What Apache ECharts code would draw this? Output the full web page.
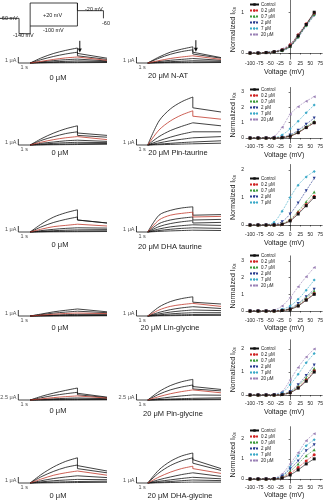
<!DOCTYPE html>
<html><head><meta charset="utf-8">
<script src="https://cdn.jsdelivr.net/npm/echarts@6/dist/echarts.min.js"></script>
<style>html,body{margin:0;padding:0;background:#fff}#c{width:326px;height:500px}</style>
</head><body><div id="c"></div>
<script>
// ---------- DATA ----------
// sample times (s) of the activation phase, and of the tail phase
const stepTimes = [0, 1, 2, 3, 4];
const tailTimes = [4, 6.5];
// each trace: [I(0s), I(1s), I(2s), I(3s), I(4s), tail start, tail end]  (μA)
const natCtrl = [
  [0,0.9,1.6,2.1,2.5,1.6,0.8],[0,0.6,1.1,1.5,1.8,1.2,0.6],[0,0.3,0.6,0.85,1.0,0.8,0.45],
  [0,0.2,0.4,0.55,0.65,0.55,0.35],[0,0.1,0.2,0.28,0.35,0.35,0.25],[0,0.05,0.1,0.13,0.15,0.2,0.15],[0,0.02,0.03,0.04,0.05,0.1,0.08]];
const nat20 = [
  [0,1.0,1.8,2.3,2.7,1.8,0.9],[0,0.8,1.45,1.9,2.2,1.5,0.8],[0,0.4,0.75,1.0,1.2,1.0,0.6],
  [0,0.25,0.45,0.6,0.75,0.7,0.45],[0,0.12,0.22,0.3,0.38,0.4,0.3],[0,0.05,0.1,0.13,0.16,0.22,0.17],[0,0.02,0.03,0.04,0.05,0.1,0.08]];
const pinTauCtrl = [
  [0,1.1,2.0,2.7,3.2,2.0,1.6],[0,0.8,1.4,1.9,2.2,1.6,1.3],[0,0.5,0.9,1.2,1.4,1.2,0.9],
  [0,0.3,0.5,0.7,0.8,0.8,0.6],[0,0.15,0.28,0.38,0.45,0.5,0.4],[0,0.06,0.12,0.16,0.2,0.3,0.25],[0,0.02,0.04,0.06,0.08,0.15,0.12]];
const pinTau20 = [
  [0,4.0,6.0,7.2,8.0,6.2,5.5],[0,2.5,4.0,5.0,5.7,4.8,4.3],[0,1.4,2.4,3.1,3.7,3.6,3.2],
  [0,0.7,1.3,1.8,2.2,2.4,2.2],[0,0.35,0.7,0.95,1.2,1.5,1.4],[0,0.15,0.28,0.4,0.5,0.8,0.7],[0,0.05,0.1,0.15,0.2,0.35,0.3]];
const dhaTauCtrl = [
  [0,1.4,2.5,3.2,3.7,2.0,1.5],[0,0.9,1.6,2.1,2.5,2.0,1.5],[0,0.5,0.9,1.1,1.3,1.3,1.0],
  [0,0.25,0.45,0.6,0.7,0.8,0.65],[0,0.12,0.22,0.3,0.35,0.45,0.4],[0,0.05,0.1,0.13,0.15,0.25,0.2],[0,0.02,0.03,0.04,0.05,0.1,0.08]];
const dhaTau20 = [
  [0,2.8,3.6,4.0,4.2,2.8,2.9],[0,2.0,2.8,3.1,3.3,2.5,2.6],[0,1.4,2.0,2.3,2.5,2.0,2.1],
  [0,0.9,1.4,1.7,1.9,1.5,1.6],[0,0.5,0.85,1.05,1.2,1.0,1.1],[0,0.25,0.45,0.6,0.7,0.55,0.6],[0,0.1,0.18,0.24,0.3,0.25,0.25]];
const linGlyCtrl = [
  [0,0.35,0.7,0.95,1.17,0.9,0.7],[0,0.25,0.48,0.65,0.8,0.7,0.55],[0,0.15,0.3,0.42,0.5,0.5,0.4],
  [0,0.08,0.15,0.22,0.28,0.35,0.3],[0,0.04,0.08,0.11,0.14,0.2,0.18],[0,0.02,0.04,0.05,0.06,0.1,0.09],[0,0.01,0.01,0.02,0.02,0.05,0.04]];
const linGly20 = [
  [0,1.5,2.4,2.9,3.2,2.3,2.0],[0,1.0,1.6,1.9,2.1,1.8,1.6],[0,0.6,1.05,1.35,1.55,1.4,1.25],
  [0,0.35,0.65,0.85,1.0,1.0,0.9],[0,0.18,0.35,0.47,0.55,0.6,0.55],[0,0.08,0.15,0.2,0.25,0.3,0.28],[0,0.03,0.05,0.07,0.09,0.12,0.1]];
const pinGlyCtrl = [
  [0,1.6,2.9,4.0,5.0,2.8,1.2],[0,1.0,1.9,2.6,3.2,2.2,1.0],[0,0.5,1.0,1.4,1.7,1.5,0.8],
  [0,0.25,0.5,0.7,0.85,0.9,0.55],[0,0.1,0.2,0.3,0.38,0.5,0.35],[0,0.04,0.08,0.12,0.15,0.25,0.18],[0,0.01,0.02,0.03,0.04,0.1,0.08]];
const pinGly20 = [
  [0,3.5,6.0,7.6,8.6,5.6,4.4],[0,2.4,4.2,5.4,6.25,4.6,3.8],[0,1.4,2.6,3.5,4.2,3.5,3.0],
  [0,0.6,1.2,1.7,2.1,2.2,2.0],[0,0.2,0.4,0.55,0.7,1.0,0.9],[0,0.08,0.15,0.2,0.25,0.45,0.4],[0,0.02,0.04,0.06,0.08,0.15,0.14]];
const dhaGlyCtrl = [
  [0,1.5,2.7,3.6,4.2,2.9,2.0],[0,1.1,1.95,2.6,3.0,2.4,1.7],[0,0.7,1.3,1.7,2.0,1.8,1.3],
  [0,0.4,0.75,1.0,1.2,1.2,0.9],[0,0.2,0.38,0.5,0.6,0.7,0.55],[0,0.08,0.15,0.2,0.25,0.35,0.3],[0,0.02,0.04,0.06,0.08,0.15,0.12]];
const dhaGly20 = [
  [0,2.2,3.6,4.5,5.0,3.9,2.4],[0,1.7,2.9,3.7,4.2,3.3,2.1],[0,1.0,1.8,2.4,2.8,2.4,1.6],
  [0,0.55,1.0,1.4,1.7,1.6,1.1],[0,0.28,0.52,0.75,0.95,1.0,0.7],[0,0.12,0.25,0.38,0.5,0.55,0.4],[0,0.04,0.08,0.12,0.15,0.2,0.15]];
// which trace (from the top) is drawn in red, per row: [control, drug]
const redTrace = [[2,2],[2,1],[2,1],[2,1],[2,2],[2,2]];

// voltage protocol (time s, mV)
const protocolMain = [[-2.55,-60],[-0.94,-60],[-0.94,-140],[0,-140],[0,20],[4,20],[4,-20],[6.2,-20],[6.2,-60]];
const protocolLow = [[0,-100],[4,-100],[4,20]];

// scale bars: current (μA) per row
const scaleBarCurrent = [1, 1, 1, 1, 2.5, 1];
const scaleBarLabel = ['1 μA','1 μA','1 μA','1 μA','2.5 μA','1 μA'];
// arrows on the N-AT traces (time s, from μA, to μA)
const arrowCtrl = [4.2, 3.7, 2.1];
const arrow20 = [4.27, 3.8, 2.2];

// I-V data
const voltages = [-100,-80,-60,-40,-20,0,20,40,60];
const concNames = ['Control','0.2 μM','0.7 μM','2 μM','7 μM','20 μM'];
const ivNAT = [
  [0,0,0.01,0.03,0.07,0.17,0.42,0.70,1.00],
  [0,0,0.01,0.03,0.08,0.20,0.45,0.72,0.98],
  [0,0,0.01,0.03,0.06,0.16,0.40,0.68,0.95],
  [0,0,0.01,0.02,0.05,0.15,0.38,0.66,0.92],
  [0,0,0.02,0.04,0.08,0.20,0.45,0.70,0.95],
  [0,0,0.02,0.04,0.10,0.22,0.44,0.70,0.97]];
const ivPinTau = [
  [0,0,0,0,0.02,0.12,0.35,0.68,1.00],
  [0,0,0,0,0.03,0.12,0.35,0.68,1.00],
  [0,0,0,0,0.03,0.15,0.40,0.75,1.10],
  [0,0,0,0,0.05,0.20,0.50,0.90,1.30],
  [0,0,0,0.02,0.20,0.60,1.10,1.65,2.15],
  [0,0,0,0.10,0.70,1.55,2.05,2.40,2.70]];
const ivDhaTau = [
  [0,0,0,0,0.03,0.15,0.40,0.70,1.00],
  [0,0,0,0,0.03,0.17,0.45,0.75,1.05],
  [0,0,0,0,0.04,0.20,0.50,0.85,1.20],
  [0,0,0,0.02,0.12,0.40,0.80,1.25,1.70],
  [0,0,0.01,0.10,0.50,1.00,1.45,1.75,1.95]];
const ivLinGly = [
  [0,0,0,0,0.03,0.10,0.30,0.65,1.00],
  [0,0,0,0,0.03,0.10,0.32,0.68,1.05],
  [0,0,0,0,0.04,0.12,0.38,0.78,1.20],
  [0,0,0,0.01,0.05,0.15,0.45,0.85,1.30],
  [0,0,0,0.02,0.10,0.30,0.70,1.25,1.85],
  [0,0,0,0.05,0.30,0.80,1.45,2.05,2.60]];
const ivPinGly = [
  [0,0,0,0,0.02,0.10,0.30,0.60,1.00],
  [0,0,0,0,0.02,0.10,0.32,0.65,1.05],
  [0,0,0,0,0.03,0.12,0.38,0.75,1.15],
  [0,0,0,0.01,0.04,0.15,0.45,0.85,1.30],
  [0,0,0,0.02,0.10,0.45,0.90,1.40,1.80],
  [0,0,0,0.03,0.15,0.65,1.20,1.65,2.00]];
const ivDhaGly = [
  [0,0,0,0.01,0.05,0.20,0.45,0.75,1.00],
  [0,0,0,0.01,0.06,0.28,0.57,0.90,1.20],
  [0,0,0,0.01,0.08,0.38,0.75,1.15,1.45],
  [0,0,0,0.02,0.13,0.50,0.90,1.40,1.70],
  [0,0,0,0.02,0.16,0.60,1.15,1.65,1.95],
  [0,0,0,0.03,0.25,0.75,1.30,1.90,2.25]];
const xTickLabels = [-100,-75,-50,-25,0,25,50,75];

const panelLabelsCtrl = ['0 μM','0 μM','0 μM','0 μM','0 μM','0 μM'];
const panelLabelsDrug = ['20 μM N-AT','20 μM Pin-taurine','20 μM DHA taurine','20 μM Lin-glycine','20 μM Pin-glycine','20 μM DHA-glycine'];

// ---------- LAYOUT / STYLE ----------
const FONT = 'Liberation Sans, Arial, sans-serif';
const TXT = '#222';
const traceRows = [
  {base:63, ymax:4, ppu:6},
  {base:145, ymax:9, ppu:6},
  {base:232, ymax:5, ppu:6},
  {base:316, ymax:4, ppu:6},
  {base:400, ymax:10, ppu:2.4},
  {base:483, ymax:6, ppu:6}
];
const colX = [{left:0, width:107}, {left:119, width:102}];
const tMin = -2.55, tMax = 6.5;
const ivRows = [
  {zero:53, ppu:41, ymin:-0.15, ymax:1.3, ticks:[0,1], leg:2},
  {zero:138, ppu:15.3, ymin:-0.3, ymax:3.3, ticks:[0,1,2,3], leg:87},
  {zero:225, ppu:27.5, ymin:-0.2, ymax:2.2, ticks:[0,1,2], leg:176},
  {zero:311, ppu:16.7, ymin:-0.3, ymax:3.3, ticks:[0,1,2,3], leg:253},
  {zero:395, ppu:23, ymin:-0.2, ymax:2.4, ticks:[0,1,2], leg:346},
  {zero:480, ppu:20.5, ymin:-0.2, ymax:2.6, ticks:[0,1,2], leg:428}
];
const ivData = [ivNAT, ivPinTau, ivDhaTau, ivLinGly, ivPinGly, ivDhaGly];
const tracePanels = [[natCtrl,nat20],[pinTauCtrl,pinTau20],[dhaTauCtrl,dhaTau20],[linGlyCtrl,linGly20],[pinGlyCtrl,pinGly20],[dhaGlyCtrl,dhaGly20]];
const concStyle = [
  {color:'#111', symbol:'rect', rot:0, dash:'solid'},
  {color:'#d02525', symbol:'circle', rot:0, dash:[2,1]},
  {color:'#3a9a3a', symbol:'triangle', rot:0, dash:[2,1]},
  {color:'#2a3d8f', symbol:'triangle', rot:180, dash:[2,1]},
  {color:'#3aa9c8', symbol:'diamond', rot:0, dash:[2,1]},
  {color:'#9a80b5', symbol:'triangle', rot:90, dash:[2,1]}
];

const grid = [], xAxis = [], yAxis = [], series = [], legend = [], graphic = [];
function addGrid(g, xa, ya){ grid.push(g); xAxis.push(Object.assign({gridIndex:grid.length-1}, xa)); yAxis.push(Object.assign({gridIndex:grid.length-1}, ya)); return grid.length-1; }

// protocol grid
{
  const ppm = 23/120; // px per mV
  const gi = addGrid({left:colX[0].left, width:colX[0].width, top:3-5*ppm, height:175*ppm},
    {type:'value', min:tMin, max:tMax, show:false}, {type:'value', min:-150, max:25, show:false});
  [protocolMain, protocolLow].forEach(d => series.push({type:'line', xAxisIndex:gi, yAxisIndex:gi, data:d, showSymbol:false, symbol:'none', lineStyle:{color:'#111', width:0.8}, silent:true, animation:false}));
  const pl = [['-60 mV',0,18.5,'left'],['-140 mV',13,35,'left'],['+20 mV',43,15,'left'],['-100 mV',43,30,'left'],['-20 mV',85,9.5,'left'],['-60',102,23,'left']];
  pl.forEach(p => graphic.push({type:'text', x:p[1], y:p[2], style:{text:p[0], fontSize:5.5, fontFamily:FONT, fill:TXT, align:p[3], verticalAlign:'middle'}}));
}

// trace grids
traceRows.forEach((r, ri) => {
  [0,1].forEach(ci => {
    const ymin = -1.5 / r.ppu;
    const gi = addGrid({left:colX[ci].left, width:colX[ci].width, top:r.base - r.ymax*r.ppu, height:(r.ymax - ymin)*r.ppu},
      {type:'value', min:tMin, max:tMax, show:false}, {type:'value', min:ymin, max:r.ymax, show:false});
    const traces = tracePanels[ri][ci];
    traces.forEach((tr, ti) => {
      const isRed = ti === redTrace[ri][ci];
      const col = isRed ? '#c0392b' : '#111';
      series.push({type:'line', xAxisIndex:gi, yAxisIndex:gi, smooth:0.3, showSymbol:false, symbol:'none',
        data: stepTimes.map((t,k)=>[t, tr[k]]), lineStyle:{color:col, width:0.8}, silent:true, animation:false, z: isRed?3:2});
      series.push({type:'line', xAxisIndex:gi, yAxisIndex:gi, showSymbol:false, symbol:'none',
        data: [[tailTimes[0], tr[4]], [tailTimes[0], tr[5]], [tailTimes[1], tr[6]]], lineStyle:{color:col, width:0.8}, silent:true, animation:false, z: isRed?3:2});
    });
    // scale bar
    const sb = scaleBarCurrent[ri];
    series.push({type:'line', xAxisIndex:gi, yAxisIndex:gi, showSymbol:false, symbol:'none',
      data:[[-1, sb],[-1,0],[0,0]], lineStyle:{color:'#111', width:0.8}, silent:true, animation:false});
    series.push({type:'scatter', xAxisIndex:gi, yAxisIndex:gi, symbolSize:0, silent:true, animation:false,
      data:[{value:[-1, sb/2], label:{show:true, formatter:scaleBarLabel[ri], position:'left', distance:2}},
            {value:[-0.5, 0], label:{show:true, formatter:'1 s', position:'bottom', distance:1}}],
      label:{fontSize:5.5, fontFamily:FONT, color:TXT}});
    if (ri === 0) {
      const a = ci === 0 ? arrowCtrl : arrow20;
      series.push({type:'line', xAxisIndex:gi, yAxisIndex:gi, silent:true, animation:false,
        data:[{value:[a[0], a[1]], symbol:'none'}, {value:[a[0], a[2]], symbol:'triangle', symbolRotate:180, symbolSize:[4,4]}],
        lineStyle:{color:'#111', width:1}, itemStyle:{color:'#111'}});
    }
  });
});

// panel labels
const labelPos = [[[58,78],[168,76]],[[60,153],[178,153]],[[60,245],[170,247]],[[60,328],[170,328]],[[58,411],[173,414]],[[58,496],[180,496]]];
labelPos.forEach((lp, ri) => {
  [panelLabelsCtrl[ri], panelLabelsDrug[ri]].forEach((t, ci) => graphic.push({type:'text', x:lp[ci][0], y:lp[ci][1],
    style:{text:t, fontSize:7.5, fontFamily:FONT, fill:TXT, align:'center', verticalAlign:'middle'}}));
});

// I-V grids
ivRows.forEach((r, ri) => {
  const ppmV = 0.406;
  const gi = addGrid({left:246, width:190*ppmV, top:r.zero - r.ymax*r.ppu, height:(r.ymax - r.ymin)*r.ppu},
    {type:'value', min:-110, max:80, name:'Voltage (mV)', nameLocation:'middle', nameGap:9,
      nameTextStyle:{fontSize:7, fontFamily:FONT, color:TXT},
      axisLine:{lineStyle:{color:'#111', width:0.6}}, splitLine:{show:false},
      axisTick:{customValues:xTickLabels, length:1.5, lineStyle:{width:0.6}},
      axisLabel:{customValues:xTickLabels, fontSize:5, fontFamily:FONT, color:TXT, margin:2}},
    {type:'value', min:r.ymin, max:r.ymax, name:'Normalized I{s|Ks}', nameLocation:'middle', nameGap:8,
      nameTextStyle:{fontSize:7, fontFamily:FONT, color:TXT, rich:{s:{fontSize:5, verticalAlign:'bottom', fontFamily:FONT, color:TXT, padding:[4,0,0,0]}}},
      axisLine:{show:true, lineStyle:{color:'#111', width:0.6}}, splitLine:{show:false},
      axisTick:{show:true, customValues:r.ticks, length:1.5, lineStyle:{width:0.6}},
      axisLabel:{customValues:r.ticks, fontSize:5, fontFamily:FONT, color:TXT, margin:2}});
  const rows = ivData[ri];
  rows.forEach((vals, ci) => {
    const st = concStyle[ci];
    series.push({type:'line', name:concNames[ci], xAxisIndex:gi, yAxisIndex:gi, data:voltages.map((v,k)=>[v, vals[k]]),
      smooth:0.3, symbol:st.symbol, symbolRotate:st.rot, symbolSize:3, showSymbol:true, itemStyle:{color:st.color},
      lineStyle:{color:st.color, width:0.6, type:st.dash}, z: 10-ci, silent:true, animation:false});
  });
  legend.push({orient:'vertical', left:249, top:r.leg, itemWidth:9, itemHeight:3, itemGap:1, selectedMode:false,
    data:concNames.slice(0, rows.length), textStyle:{fontSize:4.5, fontFamily:FONT, color:TXT, lineHeight:5, padding:[0,0,0,-3]}, padding:0});
});

const chart = echarts.init(document.getElementById('c'), null, {renderer:'canvas'});
chart.setOption({animation:false, backgroundColor:'#fff', textStyle:{fontFamily:FONT}, grid, xAxis, yAxis, series, legend, graphic});
</script></body></html>
